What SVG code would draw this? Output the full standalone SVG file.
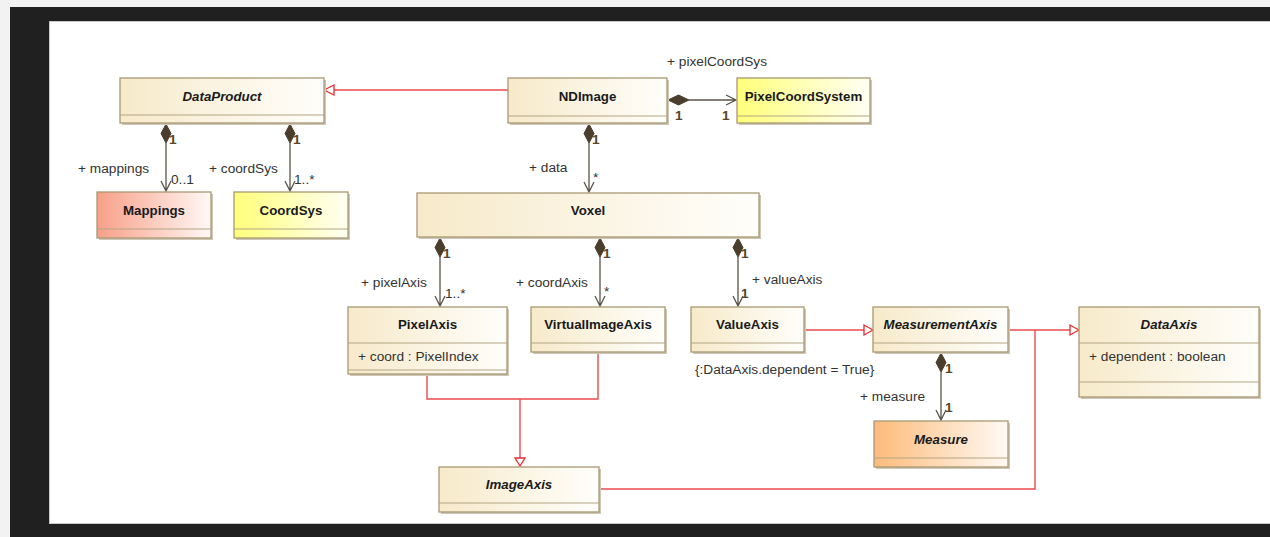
<svg xmlns="http://www.w3.org/2000/svg" width="1270" height="537" viewBox="0 0 1270 537">
<defs>
<linearGradient id="gCream" x1="0" y1="0" x2="1" y2="0"><stop offset="0" stop-color="#f7eaca"/><stop offset="1" stop-color="#fffefb"/></linearGradient>
<linearGradient id="gSalmon" x1="0" y1="0" x2="1" y2="0"><stop offset="0" stop-color="#f7a088"/><stop offset="1" stop-color="#fff8f6"/></linearGradient>
<linearGradient id="gYellow" x1="0" y1="0" x2="1" y2="0"><stop offset="0" stop-color="#ffff7a"/><stop offset="1" stop-color="#fffff4"/></linearGradient>
<linearGradient id="gOrange" x1="0" y1="0" x2="1" y2="0"><stop offset="0" stop-color="#fdbb7a"/><stop offset="1" stop-color="#fffaf5"/></linearGradient>
</defs>
<style>
.box{stroke:#a89974;stroke-width:1.3}
.shadow{fill:#cfc7b6}
.div{stroke:#b3a684;stroke-width:1.2}
.name{font-family:"Liberation Sans",Arial,sans-serif;font-size:13.3px;font-weight:bold;fill:#1a1a1a;text-anchor:middle}
.it{font-style:italic}
.attr{font-family:"Liberation Sans",Arial,sans-serif;font-size:13.7px;fill:#333}
.lbl{font-family:"Liberation Sans",Arial,sans-serif;font-size:13.7px;fill:#333}
.mult{font-family:"Liberation Sans",Arial,sans-serif;font-size:13.7px;font-weight:bold;fill:#5a4626}
.assoc{stroke:#5a5449;stroke-width:1.3;fill:none}
.dia{fill:#4a3d2c;stroke:#4a3d2c;stroke-width:1}
.gen{stroke:#ea4a4e;stroke-width:1.4;fill:none}
.tri{fill:#fff;stroke:#ea2a2e;stroke-width:1.3}
</style>
<rect x="0" y="0" width="1270" height="537" fill="#f2f2f2"/>
<rect x="10" y="7" width="1260" height="530" fill="#202020"/>
<rect x="49" y="21" width="1221" height="503" fill="#c9c9c9"/>
<rect x="50" y="22" width="1220" height="501" fill="#ffffff"/>

<g id="connectors">
<path class="gen" d="M508 90 H334"/>
<polygon class="tri" points="324,90 334,85 334,95"/>
<path class="gen" d="M804 330 H864"/>
<polygon class="tri" points="873,330 864,325 864,335"/>
<path class="gen" d="M1008 330 H1070"/>
<path class="gen" d="M599 489 H1035 V330"/>
<polygon class="tri" points="1079,330 1070,325 1070,335"/>
<path class="gen" d="M427 374 V399 H598 V352"/>
<path class="gen" d="M520 399 V458"/>
<polygon class="tri" points="520,466 515,458 525,458"/>
<path class="assoc" d="M166 143 V191 M161 181 L166 191 L171 181"/>
<polygon class="dia" points="166,124 171,133.5 166,143 161,133.5"/>
<path class="assoc" d="M290 143 V191 M285 181 L290 191 L295 181"/>
<polygon class="dia" points="290,124 295,133.5 290,143 285,133.5"/>
<path class="assoc" d="M589 143 V192 M584 182 L589 192 L594 182"/>
<polygon class="dia" points="589,124 594,133.5 589,143 584,133.5"/>
<path class="assoc" d="M689 100 H736 M726 95 L736 100 L726 105"/>
<polygon class="dia" points="668,100 678.5,95 689,100 678.5,105"/>
<path class="assoc" d="M440 257 V306 M435 296 L440 306 L445 296"/>
<polygon class="dia" points="440,238 445,247.5 440,257 435,247.5"/>
<path class="assoc" d="M600 257 V306 M595 296 L600 306 L605 296"/>
<polygon class="dia" points="600,238 605,247.5 600,257 595,247.5"/>
<path class="assoc" d="M738 257 V306 M733 296 L738 306 L743 296"/>
<polygon class="dia" points="738,238 743,247.5 738,257 733,247.5"/>
<path class="assoc" d="M941 372 V420 M936 410 L941 420 L946 410"/>
<polygon class="dia" points="941,353 946,362.5 941,372 936,362.5"/>
<text class="mult" x="169" y="144">1</text>
<text class="lbl" x="78" y="173">+ mappings</text>
<text class="lbl" x="171" y="184">0..1</text>
<text class="mult" x="293" y="144">1</text>
<text class="lbl" x="209" y="173">+ coordSys</text>
<text class="lbl" x="294" y="184">1..*</text>
<text class="mult" x="592" y="144">1</text>
<text class="lbl" x="529" y="172">+ data</text>
<text class="lbl" x="593" y="182">*</text>
<text class="lbl" x="667" y="66">+ pixelCoordSys</text>
<text class="mult" x="675" y="120">1</text>
<text class="mult" x="722" y="120">1</text>
<text class="mult" x="443" y="258">1</text>
<text class="lbl" x="361" y="287">+ pixelAxis</text>
<text class="lbl" x="445" y="298">1..*</text>
<text class="mult" x="603" y="258">1</text>
<text class="lbl" x="516" y="287">+ coordAxis</text>
<text class="lbl" x="604" y="296">*</text>
<text class="mult" x="741" y="258">1</text>
<text class="lbl" x="752" y="284">+ valueAxis</text>
<text class="mult" x="741" y="298">1</text>
<text class="lbl" x="695" y="374">{:DataAxis.dependent = True}</text>
<text class="mult" x="945" y="373">1</text>
<text class="lbl" x="860" y="401">+ measure</text>
<text class="mult" x="945" y="412">1</text>
</g>

<g id="DataProduct">
<rect class="shadow" x="122" y="80" width="204" height="45"/>
<rect class="box" x="120" y="78" width="204" height="45" fill="url(#gCream)"/>
<line class="div" x1="120" y1="115" x2="324" y2="115"/>
<text class="name it" x="222" y="101">DataProduct</text>
</g>
<g id="NDImage">
<rect class="shadow" x="510" y="80" width="159" height="45"/>
<rect class="box" x="508" y="78" width="159" height="45" fill="url(#gCream)"/>
<line class="div" x1="508" y1="116" x2="667" y2="116"/>
<text class="name" x="587.5" y="101">NDImage</text>
</g>
<g id="PixelCoordSystem">
<rect class="shadow" x="739" y="80" width="133" height="45"/>
<rect class="box" x="737" y="78" width="133" height="45" fill="url(#gYellow)"/>
<line class="div" x1="737" y1="116" x2="870" y2="116"/>
<text class="name" x="803.5" y="101">PixelCoordSystem</text>
</g>
<g id="Mappings">
<rect class="shadow" x="99" y="194" width="114" height="46"/>
<rect class="box" x="97" y="192" width="114" height="46" fill="url(#gSalmon)"/>
<line class="div" x1="97" y1="229" x2="211" y2="229"/>
<text class="name" x="154" y="215">Mappings</text>
</g>
<g id="CoordSys">
<rect class="shadow" x="236" y="194" width="114" height="46"/>
<rect class="box" x="234" y="192" width="114" height="46" fill="url(#gYellow)"/>
<line class="div" x1="234" y1="229" x2="348" y2="229"/>
<text class="name" x="291" y="215">CoordSys</text>
</g>
<g id="Voxel">
<rect class="shadow" x="419" y="195" width="342" height="44"/>
<rect class="box" x="417" y="193" width="342" height="44" fill="url(#gCream)"/>
<text class="name" x="588" y="215">Voxel</text>
</g>
<g id="PixelAxis">
<rect class="shadow" x="350" y="309" width="159" height="67"/>
<rect class="box" x="348" y="307" width="159" height="67" fill="url(#gCream)"/>
<line class="div" x1="348" y1="343" x2="507" y2="343"/>
<line class="div" x1="348" y1="370" x2="507" y2="370"/>
<text class="name" x="427.5" y="329">PixelAxis</text>
<text class="attr" x="358" y="361">+ coord : PixelIndex</text>
</g>
<g id="VirtualImageAxis">
<rect class="shadow" x="533" y="309" width="134" height="45"/>
<rect class="box" x="531" y="307" width="134" height="45" fill="url(#gCream)"/>
<line class="div" x1="531" y1="343" x2="665" y2="343"/>
<text class="name" x="598" y="329">VirtualImageAxis</text>
</g>
<g id="ValueAxis">
<rect class="shadow" x="693" y="309" width="113" height="45"/>
<rect class="box" x="691" y="307" width="113" height="45" fill="url(#gCream)"/>
<line class="div" x1="691" y1="343" x2="804" y2="343"/>
<text class="name" x="747.5" y="329">ValueAxis</text>
</g>
<g id="MeasurementAxis">
<rect class="shadow" x="875" y="309" width="135" height="45"/>
<rect class="box" x="873" y="307" width="135" height="45" fill="url(#gCream)"/>
<line class="div" x1="873" y1="343" x2="1008" y2="343"/>
<text class="name it" x="940.5" y="329">MeasurementAxis</text>
</g>
<g id="DataAxis">
<rect class="shadow" x="1081" y="309" width="180" height="90"/>
<rect class="box" x="1079" y="307" width="180" height="90" fill="url(#gCream)"/>
<line class="div" x1="1079" y1="343" x2="1259" y2="343"/>
<line class="div" x1="1079" y1="382" x2="1259" y2="382"/>
<text class="name it" x="1169" y="329">DataAxis</text>
<text class="attr" x="1089" y="361">+ dependent : boolean</text>
</g>
<g id="Measure">
<rect class="shadow" x="876" y="423" width="134" height="46"/>
<rect class="box" x="874" y="421" width="134" height="46" fill="url(#gOrange)"/>
<line class="div" x1="874" y1="458" x2="1008" y2="458"/>
<text class="name it" x="941" y="444">Measure</text>
</g>
<g id="ImageAxis">
<rect class="shadow" x="441" y="469" width="160" height="45"/>
<rect class="box" x="439" y="467" width="160" height="45" fill="url(#gCream)"/>
<line class="div" x1="439" y1="503" x2="599" y2="503"/>
<text class="name it" x="519" y="489">ImageAxis</text>
</g>
</svg>
